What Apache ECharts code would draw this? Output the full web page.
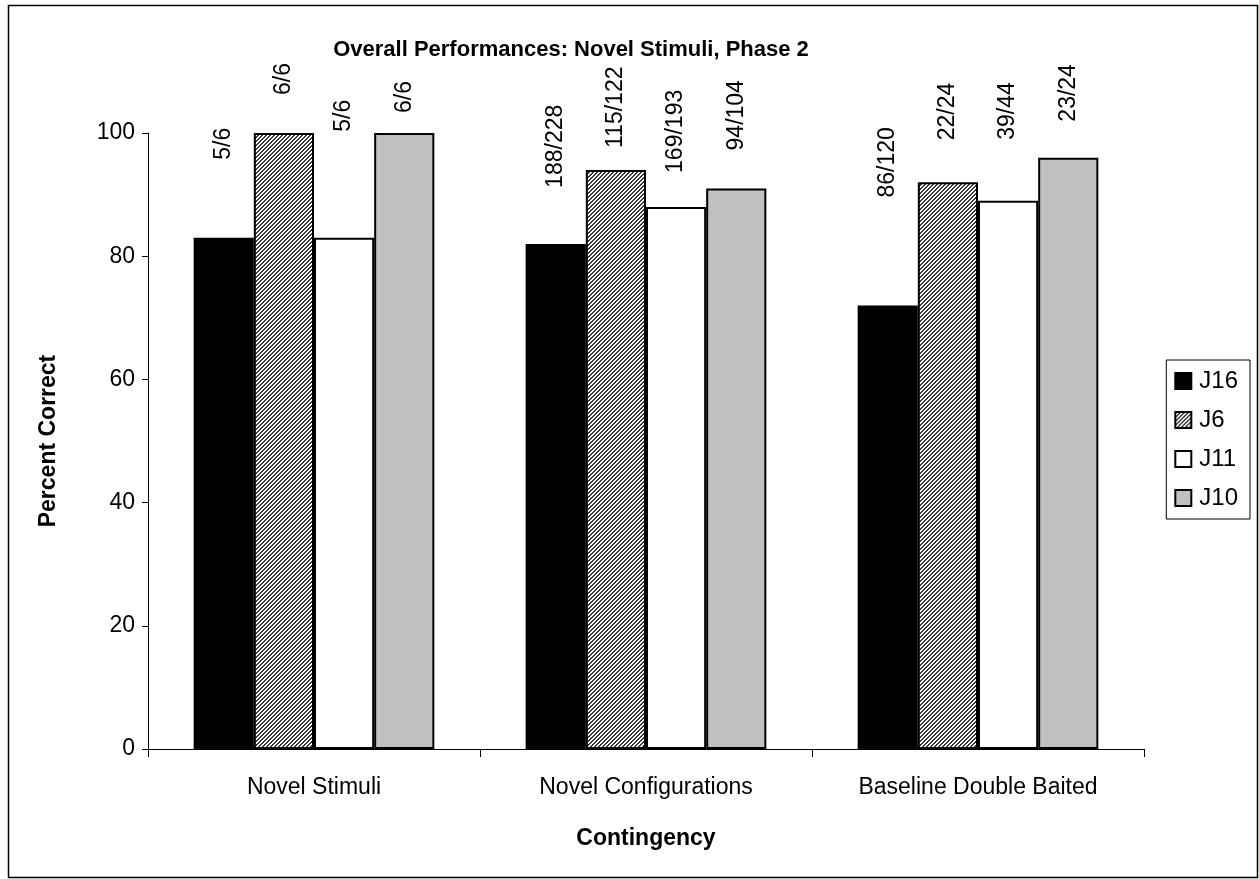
<!DOCTYPE html>
<html>
<head>
<meta charset="utf-8">
<script src="https://cdn.jsdelivr.net/npm/echarts@6/dist/echarts.min.js"></script>
<style>
html,body{margin:0;padding:0;background:#fff;}
#chart{width:1259px;height:879px;}
</style>
</head>
<body>
<div id="chart"></div>
<script>
// ---- data ----
const categories = ['Novel Stimuli', 'Novel Configurations', 'Baseline Double Baited'];
const seriesNames = ['J16', 'J6', 'J11', 'J10'];
const J16 = [83, 82, 72];
const J6 = [100, 94, 92];
const J11 = [83, 88, 89];
const J10 = [100, 91, 96];
const labelsJ16 = ['5/6', '188/228', '86/120'];
const labelsJ6 = ['6/6', '115/122', '22/24'];
const labelsJ11 = ['5/6', '169/193', '39/44'];
const labelsJ10 = ['6/6', '94/104', '23/24'];
const yTicks = [0, 20, 40, 60, 80, 100];

// ---- styling (label gaps above bars, in px) ----
const gapJ16 = [78, 56, 108];
const gapJ6 = [38, 22, 42];
const gapJ11 = [106, 34, 61];
const gapJ10 = [20, 38, 36];

function hatch() {
  const c = document.createElement('canvas');
  c.width = 4; c.height = 4;
  const ctx = c.getContext('2d');
  ctx.fillStyle = '#ffffff';
  ctx.fillRect(0, 0, 4, 4);
  ctx.fillStyle = '#3a3a3a';
  for (let x = 0; x < 4; x++) for (let y = 0; y < 4; y++) {
    const m = (x + y) % 4;
    if (m === 0 || m === 1) ctx.fillRect(x, y, 1, 1);
  }
  return { image: c, repeat: 'repeat' };
}

const fills = ['#000000', hatch(), '#ffffff', '#c0c0c0'];
const values = [J16, J6, J11, J10];
const labels = [labelsJ16, labelsJ6, labelsJ11, labelsJ10];
const gaps = [gapJ16, gapJ6, gapJ11, gapJ10];
const FONT = 'Arial, "Liberation Sans", sans-serif';

const series = seriesNames.map((name, si) => ({
  name: name,
  type: 'bar',
  barGap: '0%',
  barCategoryGap: '27.5%',
  itemStyle: { color: fills[si], borderColor: '#000', borderWidth: 2 },
  data: values[si].map((v, i) => ({
    value: v,
    label: {
      show: true,
      position: 'top',
      distance: gaps[si][i],
      rotate: 90,
      align: 'left',
      verticalAlign: 'middle',
      formatter: labels[si][i],
      color: '#000',
      fontFamily: FONT,
      fontSize: 23
    }
  }))
}));

const chart = echarts.init(document.getElementById('chart'));
chart.setOption({
  animation: false,
  backgroundColor: '#fff',
  title: {
    text: 'Overall Performances: Novel Stimuli, Phase 2',
    left: 566,
    textAlign: 'center',
    top: 34,
    textStyle: { fontFamily: FONT, fontSize: 22, fontWeight: 'bold', color: '#000' }
  },
  graphic: [{
    type: 'rect',
    shape: { x: 8.5, y: 5.5, width: 1249, height: 872 },
    style: { fill: 'none', stroke: '#000', lineWidth: 1.5 },
    silent: true
  }],
  legend: {
    orient: 'vertical',
    right: 9,
    top: 360,
    data: seriesNames,
    icon: 'rect',
    itemWidth: 16,
    itemHeight: 16,
    itemGap: 15,
    padding: [9, 12, 9, 8],
    borderColor: '#000',
    borderWidth: 1,
    textStyle: { fontFamily: FONT, fontSize: 24, color: '#000', padding: [0, 0, 0, 3] }
  },
  grid: { left: 148, right: 115, top: 133, bottom: 130 },
  xAxis: {
    type: 'category',
    data: categories,
    name: 'Contingency',
    nameLocation: 'middle',
    nameGap: 78,
    nameTextStyle: { fontFamily: FONT, fontSize: 23, fontWeight: 'bold', color: '#000' },
    axisLine: { lineStyle: { color: '#000', width: 1 } },
    axisTick: { show: true, length: 8, alignWithLabel: false, lineStyle: { color: '#000' } },
    axisLabel: { fontFamily: FONT, fontSize: 23, color: '#000', margin: 27 }
  },
  yAxis: {
    type: 'value',
    min: 0,
    max: 100,
    interval: 20,
    name: 'Percent Correct',
    nameLocation: 'middle',
    nameGap: 88,
    nameTextStyle: { fontFamily: FONT, fontSize: 23, fontWeight: 'bold', color: '#000' },
    axisLine: { show: true, lineStyle: { color: '#000', width: 1 } },
    axisTick: { show: true, length: 6, inside: false, lineStyle: { color: '#000' } },
    splitLine: { show: false },
    axisLabel: {
      fontFamily: FONT, fontSize: 23, color: '#000', margin: 13,
      formatter: v => yTicks.includes(v) ? String(v) : ''
    }
  },
  series: series
});
</script>
</body>
</html>
